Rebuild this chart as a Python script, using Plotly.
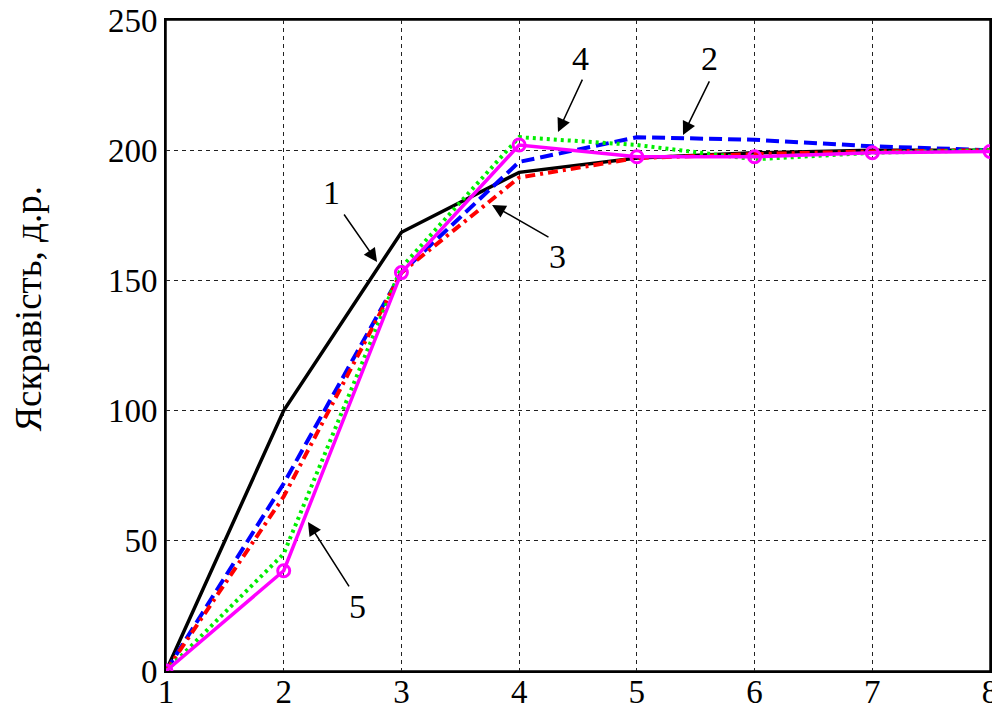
import plotly.graph_objects as go

x = [1, 2, 3, 4, 5, 6, 7, 8]
s1 = [0, 100, 168.5, 191.5, 197, 199, 200, 200]
s2 = [0, 72, 153, 195.5, 205, 204, 201.5, 200]
s3 = [0, 67, 153, 189.5, 197, 198.5, 199.5, 200]
s4 = [0, 45, 155, 205, 202, 196.5, 199, 200]
s5 = [0, 38.5, 153, 202, 197.5, 197.5, 199, 199.5]

labels = ["1", "2", "3", "4", "5"]
label_x = [2.41, 5.62, 4.33, 4.52, 2.63]
label_y = [183.6, 235.4, 159.0, 235.4, 24.6]
tail_x = [2.504, 5.622, 4.262, 4.543, 2.563]
tail_y = [175.9, 227.0, 166.3, 227.7, 31.9]
head_x = [2.793, 5.392, 3.770, 4.330, 2.206]
head_y = [157.1, 205.8, 179.0, 207.0, 57.2]

yticks = [0, 50, 100, 150, 200, 250]
ylabel = "Яскравість, д.р."

fig = go.Figure()
fig.add_trace(go.Scatter(x=x, y=s1, mode="lines", line=dict(color="black", width=3.5)))
fig.add_trace(go.Scatter(x=x, y=s2, mode="lines", line=dict(color="#0000ff", width=4, dash="13px,6px")))
fig.add_trace(go.Scatter(x=x, y=s3, mode="lines", line=dict(color="#ff0000", width=4, dash="10px,5px,3px,5px")))
fig.add_trace(go.Scatter(x=x, y=s4, mode="lines", line=dict(color="#00ee00", width=4, dash="3px,4px")))
fig.add_trace(go.Scatter(x=x, y=s5, mode="lines+markers", line=dict(color="#ff00ff", width=3.5),
                         marker=dict(symbol="circle-open", size=12, color="#ff00ff", line=dict(width=3))))

font_t = "Liberation Serif"

for i in range(len(labels)):
    fig.add_annotation(x=head_x[i], y=head_y[i], ax=tail_x[i], ay=tail_y[i],
                       xref="x", yref="y", axref="x", ayref="y", text="",
                       showarrow=True, arrowhead=2, arrowsize=1.8, arrowwidth=1.5,
                       arrowcolor="black")
    fig.add_annotation(x=label_x[i], y=label_y[i], xref="x", yref="y", text=labels[i],
                       showarrow=False, font=dict(family=font_t, size=34, color="black"))

fig.add_annotation(x=-0.168, y=0.556, xref="paper", yref="paper", text=ylabel,
                   textangle=-90, showarrow=False, xanchor="center", yanchor="middle",
                   font=dict(family=font_t, size=37, color="black"))

fig.add_shape(type="rect", xref="paper", yref="paper", x0=0, x1=1, y0=0, y1=1,
              line=dict(color="black", width=1.5), fillcolor="rgba(0,0,0,0)", layer="below")

fig.update_layout(
    width=992, height=703,
    margin=dict(l=158, r=10, t=12, b=40, autoexpand=False),
    paper_bgcolor="white", plot_bgcolor="white",
    showlegend=False,
    font=dict(family=font_t, size=33, color="black"),
)
fig.update_xaxes(range=[1, 8], tickvals=x, ticktext=[str(v) for v in x],
                 showgrid=True, gridcolor="#222", griddash="4px,4px", gridwidth=1.3,
                 showline=True, linecolor="black", linewidth=2, mirror=True,
                 zeroline=False, ticks="", automargin=False, ticklabelstandoff=-10,
                 ticklabeloverflow="allow",
                 tickfont=dict(family=font_t, size=33))
fig.update_yaxes(range=[0, 250], tickvals=yticks, ticktext=[str(v) for v in yticks],
                 showgrid=True, gridcolor="#222", griddash="4px,4px", gridwidth=1.3,
                 showline=True, linecolor="black", linewidth=2, mirror=True,
                 zeroline=False, ticks="", automargin=False,
                 ticklabeloverflow="allow",
                 tickfont=dict(family=font_t, size=33))

fig.write_html("out.html")
